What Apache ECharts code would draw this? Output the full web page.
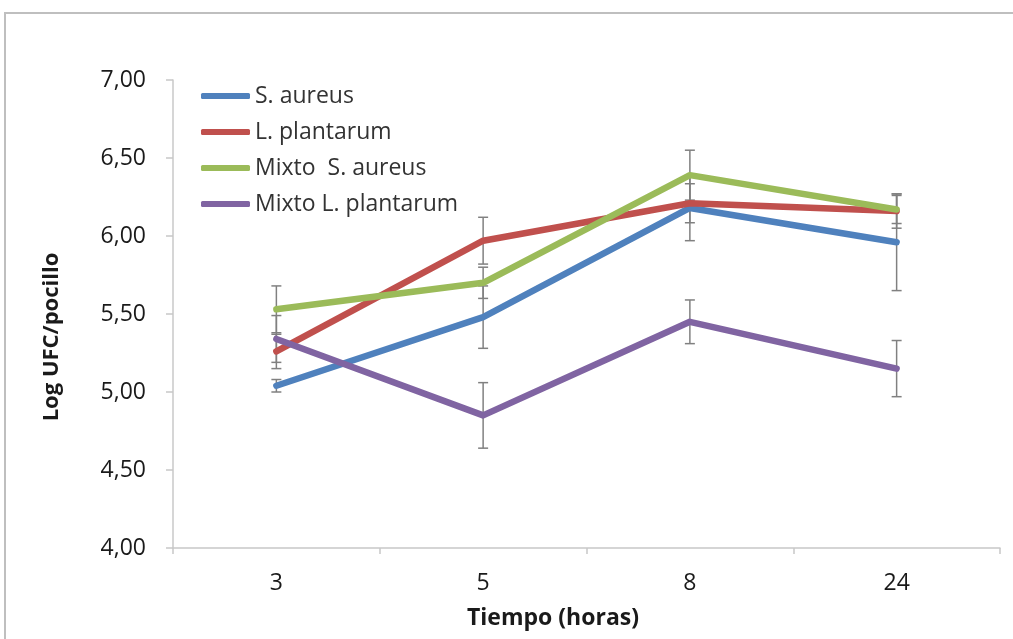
<!DOCTYPE html>
<html>
<head>
<meta charset="utf-8">
<script src="https://cdn.jsdelivr.net/npm/echarts@6/dist/echarts.min.js"></script>
<style>
  html, body { margin: 0; padding: 0; background: #ffffff; }
  #chart { width: 1013px; height: 639px; }
</style>
</head>
<body>
<div id="chart"></div>
<script>
// Time points (hours)
const categories = ['3', '5', '8', '24'];

// Mean log CFU per well
const sAureus = [5.04, 5.48, 6.18, 5.96];
const lPlantarum = [5.26, 5.97, 6.21, 6.16];
const mixtoSAureus = [5.53, 5.70, 6.39, 6.17];
const mixtoLPlantarum = [5.34, 4.85, 5.45, 5.15];

// Standard deviations (symmetric error bars)
const sAureusErr = [0.04, 0.20, 0.21, 0.31];
const lPlantarumErr = [0.11, 0.15, 0.125, 0.11];
const mixtoSAureusErr = [0.15, 0.10, 0.16, 0.09];
const mixtoLPlantarumErr = [0.15, 0.21, 0.14, 0.18];

const seriesNames = ['S. aureus', 'L. plantarum', 'Mixto  S. aureus', 'Mixto L. plantarum'];
const seriesColors = ['#4f81bd', '#c0504d', '#9bbb59', '#8064a2'];
const seriesValues = [sAureus, lPlantarum, mixtoSAureus, mixtoLPlantarum];
const seriesErrors = [sAureusErr, lPlantarumErr, mixtoSAureusErr, mixtoLPlantarumErr];

const FONT = '"Open Sans", "Noto Sans", sans-serif';

// Error bar rows: [category index, low, high]
const errorRows = [];
seriesValues.forEach((vals, s) => {
  vals.forEach((v, i) => {
    const e = seriesErrors[s][i];
    errorRows.push([i, v - e, v + e]);
  });
});

const lineSeries = seriesNames.map((name, s) => ({
  name: name,
  type: 'line',
  data: seriesValues[s],
  symbol: 'none',
  z: 3,
  color: seriesColors[s],
  lineStyle: { width: 6.5, color: seriesColors[s], cap: 'round', join: 'round' },
  emphasis: { disabled: true }
}));

const errorSeries = {
  type: 'custom',
  z: 1,
  silent: true,
  data: errorRows,
  renderItem: function (params, api) {
    const idx = api.value(0);
    const lo = api.coord([idx, api.value(1)]);
    const hi = api.coord([idx, api.value(2)]);
    const half = 5;
    const style = { stroke: '#808080', lineWidth: 1.5 };
    return {
      type: 'group',
      children: [
        { type: 'line', shape: { x1: lo[0], y1: lo[1], x2: hi[0], y2: hi[1] }, style: style },
        { type: 'line', shape: { x1: lo[0] - half, y1: lo[1], x2: lo[0] + half, y2: lo[1] }, style: style },
        { type: 'line', shape: { x1: hi[0] - half, y1: hi[1], x2: hi[0] + half, y2: hi[1] }, style: style }
      ]
    };
  }
};

const chart = echarts.init(document.getElementById('chart'), null, { renderer: 'canvas' });

chart.setOption({
  backgroundColor: '#ffffff',
  animation: false,
  grid: { left: 173, right: 13, top: 80, bottom: 91, containLabel: false },
  legend: {
    orient: 'vertical',
    left: 196,
    top: 78,
    itemWidth: 49,
    itemHeight: 6,
    itemGap: 10,
    icon: 'roundRect',
    selectedMode: false,
    data: seriesNames,
    textStyle: { fontFamily: FONT, fontSize: 23, color: '#333333', lineHeight: 26 }
  },
  xAxis: {
    type: 'category',
    data: categories,
    boundaryGap: true,
    axisLine: { lineStyle: { color: '#c8c8c8', width: 1.5 } },
    axisTick: { show: true, length: 6, lineStyle: { color: '#c8c8c8', width: 1.5 } },
    axisLabel: { fontFamily: FONT, fontSize: 23, color: '#1a1a1a', margin: 24 },
    splitLine: { show: false }
  },
  yAxis: {
    type: 'value',
    min: 4,
    max: 7,
    interval: 0.5,
    axisLine: { show: true, lineStyle: { color: '#c8c8c8', width: 1.5 } },
    axisTick: { show: true, length: 7, lineStyle: { color: '#c8c8c8', width: 1.5 } },
    axisLabel: {
      fontFamily: FONT, fontSize: 23, color: '#1a1a1a', margin: 27,
      formatter: v => v.toFixed(2).replace('.', ',')
    },
    splitLine: { show: false }
  },
  graphic: [
    {
      type: 'rect',
      silent: true,
      shape: { x: 5, y: 13, width: 1020, height: 640 },
      style: { fill: 'none', stroke: '#bfbfbf', lineWidth: 2 }
    },
    {
      type: 'text',
      silent: true,
      x: 52,
      y: 337,
      rotation: Math.PI / 2,
      style: {
        text: 'Log UFC/pocillo',
        font: 'bold 22px ' + FONT,
        fill: '#1a1a1a',
        align: 'center',
        verticalAlign: 'middle'
      }
    },
    {
      type: 'text',
      silent: true,
      x: 553,
      y: 618,
      style: {
        text: 'Tiempo (horas)',
        font: 'bold 23px ' + FONT,
        fill: '#1a1a1a',
        align: 'center',
        verticalAlign: 'middle'
      }
    }
  ],
  series: [errorSeries].concat(lineSeries)
});
</script>
</body>
</html>
